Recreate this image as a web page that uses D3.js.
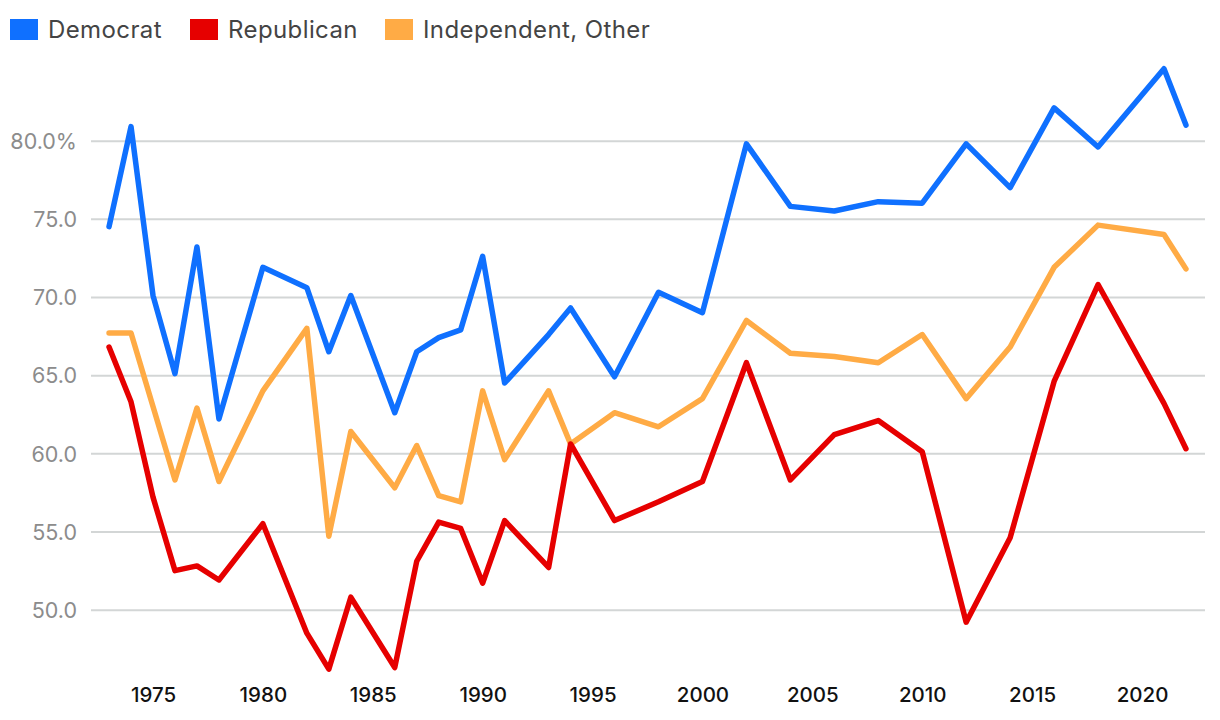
<!DOCTYPE html>
<html>
<head>
<meta charset="utf-8">
<script src="https://cdn.jsdelivr.net/npm/d3@7"></script>
<style>
  html, body { margin: 0; padding: 0; background: #fff; }
  svg { display: block; font-family: "Inter", "Lato", sans-serif; }
</style>
</head>
<body>
<svg id="chart" width="1220" height="720"></svg>
<script>
const years = [1973,1974,1975,1976,1977,1978,1980,1982,1983,1984,1986,1987,1988,1989,1990,1991,1993,1994,1996,1998,2000,2002,2004,2006,2008,2010,2012,2014,2016,2018,2021,2022];
const democrat = [74.5,80.9,70.1,65.1,73.2,62.2,71.9,70.6,66.5,70.1,62.6,66.5,67.4,67.9,72.6,64.5,67.6,69.3,64.9,70.3,69.0,79.8,75.8,75.5,76.1,76.0,79.8,77.0,82.1,79.6,84.6,81.0];
const republican = [66.8,63.3,57.2,52.5,52.8,51.9,55.5,48.5,46.2,50.8,46.3,53.1,55.6,55.2,51.7,55.7,52.7,60.6,55.7,56.9,58.2,65.8,58.3,61.2,62.1,60.1,49.2,54.6,64.6,70.8,63.2,60.3];
const independent = [67.7,67.7,63.0,58.3,62.9,58.2,64.0,68.0,54.7,61.4,57.8,60.5,57.3,56.9,64.0,59.6,64.0,60.6,62.6,61.7,63.5,68.5,66.4,66.2,65.8,67.6,63.5,66.8,71.9,74.6,74.0,71.8];
const seriesNames = ["Democrat","Republican","Independent, Other"];
const seriesColors = ["#0f70ff","#e60000","#ffab45"];
const yTicks = [50,55,60,65,70,75,80];
const xTicks = [1975,1980,1985,1990,1995,2000,2005,2010,2015,2020];

const svg = d3.select("#chart");
const x = d3.scaleLinear().domain([1975, 2020]).range([153, 1142]);
const y = d3.scaleLinear().domain([50, 80]).range([609.7, 140.7]);

// gridlines + y labels
const yAxis = d3.axisLeft(y).tickValues(yTicks).tickSize(-(1205 - 91))
  .tickFormat(d => d === 80 ? d3.format(".1f")(d) + "%" : d3.format(".1f")(d));
const gy = svg.append("g").attr("transform", "translate(91,0)").call(yAxis);
gy.select(".domain").remove();
gy.selectAll(".tick line").attr("stroke", "#d3d6d6").attr("stroke-width", 2);
gy.selectAll(".tick text").attr("x", -14).attr("fill", "#8c8c8c")
  .attr("font-size", 21.5).attr("dy", "0.36em").style("font-family", "Inter, sans-serif");

// x axis labels
const xAxis = d3.axisBottom(x).tickValues(xTicks).tickSize(0).tickFormat(d3.format("d"));
const gx = svg.append("g").attr("transform", "translate(0,683)").call(xAxis);
gx.select(".domain").remove();
gx.selectAll(".tick text").attr("fill", "#111").attr("font-size", 20.5).attr("dy", "0.74em")
  .attr("y", 4).attr("font-weight", 500).style("font-family", "Inter, sans-serif");

// lines
const data = [democrat, republican, independent];
const line = d3.line().x((d, i) => x(years[i])).y(d => y(d));
const drawOrder = [2, 1, 0];
drawOrder.forEach(k => {
  svg.append("path").datum(data[k]).attr("d", line)
    .attr("fill", "none").attr("stroke", seriesColors[k]).attr("stroke-width", 5.5)
    .attr("stroke-linejoin", "round").attr("stroke-linecap", "round");
});

// legend
const legendX = [10, 190, 385];
const lg = svg.append("g");
seriesNames.forEach((name, i) => {
  lg.append("rect").attr("x", legendX[i]).attr("y", 19).attr("width", 28).attr("height", 21)
    .attr("fill", seriesColors[i]);
  lg.append("text").attr("x", legendX[i] + 38).attr("y", 38).text(name)
    .attr("font-size", 24).attr("letter-spacing", 0.4).attr("fill", "#444")
    .style("font-family", "Inter, sans-serif");
});
</script>
</body>
</html>
